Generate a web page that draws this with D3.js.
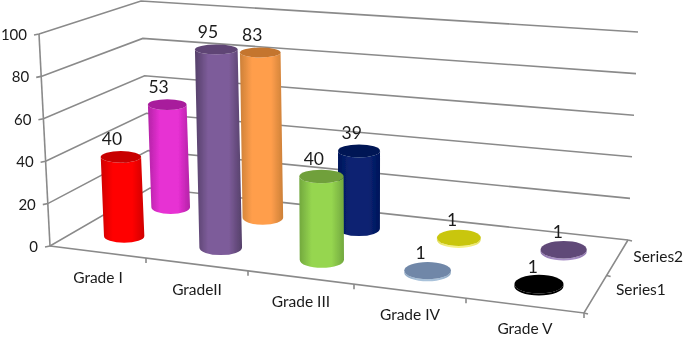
<!DOCTYPE html>
<html><head><meta charset="utf-8">
<script src="https://cdn.jsdelivr.net/npm/d3@7"></script>
<style>html,body{margin:0;padding:0;background:#fff}svg{display:block}text{font-family:Lato,"Open Sans",sans-serif;fill:#1a1a1a}</style>
</head><body><div id="c"></div>
<script>
const categories = ["Grade I", "GradeII", "Grade III", "Grade IV", "Grade V"];
const seriesNames = ["Series1", "Series2"];
const series1 = [40, 95, 40, 1, 1];
const series2 = [53, 83, 39, 1, 1];
const valueTicks = [0, 20, 40, 60, 80, 100];

const paletteS1 = [
 {mid:"#ff0000",edge:"#d00000",top:"#c80000"},
 {mid:"#7d5c9a",edge:"#554069",top:"#5f4574"},
 {mid:"#96d650",edge:"#72a83e",top:"#70a03a"},
 {mid:"#a9c2da",edge:"#8ea8c4",top:"#6f87a8"},
 {mid:"#000000",edge:"#000000",top:"#000000"}];
const paletteS2 = [
 {mid:"#e730d3",edge:"#b323a6",top:"#a81f9c"},
 {mid:"#ff9e4c",edge:"#cc8038",top:"#c4742e"},
 {mid:"#0a2472",edge:"#00145a",top:"#001654"},
 {mid:"#f6f184",edge:"#e4e060",top:"#c9c60c"},
 {mid:"#a78fc4",edge:"#8d74ad",top:"#614878"}];

const W=685,H=337;
const svg=d3.select("#c").append("svg").attr("width",W).attr("height",H);
const defs=svg.append("defs");
defs.append("filter").attr("id","soft").attr("x","-5%").attr("y","-5%").attr("width","110%").attr("height","110%")
  .append("feGaussianBlur").attr("stdDeviation",0.5);
const g=svg.append("g").attr("filter","url(#soft)");

// floor projection
const uFront=d3.scaleLinear().domain([0,1,2,3,4,5]).range([50,146,248,354,466,584]);
const uBack =d3.scaleLinear().domain([0,1,2,3,4,5]).range([150,238,330,425,524,628]);
const yFront=d3.scaleLinear().domain([50,584]).range([246,313]);
const yBack =d3.scaleLinear().domain([150,628]).range([188,240]);
const depth =d3.scaleLinear().domain([0.5,1.5]).range([0.2725,0.757]);
function floorPt(u,v){
  const t=v===0?0:v===2?1:depth(v),xf=uFront(u),xb=uBack(u);
  return [d3.interpolateNumber(xf,xb)(t),d3.interpolateNumber(yFront(xf),yBack(xb))(t)];
}
const lean  =d3.scaleLinear().domain([50,350]).range([-0.108,0]);
const unitPx=d3.scaleLinear().domain([0,1]).range([2.14,1.94]);
const unitX =d3.scaleLinear().domain([120,220,350]).range([0.945,1,1]).clamp(true);
const squash=d3.scaleLinear().domain([0,100]).range([0.34,0.215]);
const squashX=d3.scaleLinear().domain([100,550]).range([1,1.12]).clamp(true);
const labelDx=d3.scaleLinear().domain([120,560]).range([-9,-6]);
const catDy =d3.scaleLinear().domain([98,525]).range([31,28]);
// walls
const val=d3.scaleLinear().domain([0,100]);
const frontX=val.copy().range([50,39]),frontY=val.copy().range([246,34]);
const backLX=val.copy().range([150,141]),backLY=val.copy().range([188,1]);
const backRX=val.copy().range([628,638]),backRY=val.copy().range([240,32]);

const axis=g.append("g").attr("fill","none").attr("stroke","#8a8a8a").attr("stroke-width",1.6);
valueTicks.forEach(v=>{
  axis.append("path").attr("d",d3.line()([[frontX(v)-5,frontY(v)+1],[frontX(v),frontY(v)],[backLX(v),backLY(v)],[backRX(v),backRY(v)]]));
});
axis.append("path").attr("d",d3.line()([[frontX(0),frontY(0)],[frontX(100),frontY(100)]]));
// floor front + right edges
const fr=[uFront(5),yFront(uFront(5))];
axis.append("path").attr("d",d3.line()([[frontX(0),frontY(0)],fr,[uBack(5),yBack(uBack(5))]]));
d3.range(1,6).forEach(u=>{
  const x=uFront(u),y=yFront(x);
  axis.append("path").attr("d",d3.line()([[x,y],[x,y+5]]));
});
[0,1,2].forEach(v=>{
  const p=floorPt(5,v);
  axis.append("path").attr("d",d3.line()([p,[p[0]+4,p[1]+1]]));
});

// value axis labels
g.append("g").selectAll("text").data(valueTicks).join("text")
  .attr("x",v=>frontX(v)-12).attr("y",v=>frontY(v)+6)
  .attr("text-anchor","end").attr("font-size",15).text(v=>v);
// category labels
g.append("g").selectAll("text").data(categories).join("text")
  .attr("x",(d,i)=>uFront(i+.5)).attr("y",(d,i)=>yFront(uFront(i+.5))+catDy(uFront(i+.5)))
  .attr("text-anchor","middle").attr("font-size",15.5).text(d=>d);
// series labels
g.append("g").selectAll("text").data(seriesNames).join("text")
  .attr("x",(d,i)=>floorPt(5,i+.5)[0]+(i?16:20)).attr("y",(d,i)=>floorPt(5,i+.5)[1]+(i?4:2))
  .attr("font-size",15.5).text(d=>d);

// cylinders
function cylinder(u,s,value,pal,id){
  const [bx,by]=floorPt(u,s+.5);
  const t=depth(s+.5);
  const cw=(floorPt(u+.5,s+.5)[0]-floorPt(u-.5,s+.5)[0]);
  const rx=cw*0.215;
  const h=value*unitPx(t)*unitX(bx);
  const tx=bx+lean(bx)*value, ty=by-h;
  const ryB=rx*squash(0)*squashX(bx), ryT=rx*squash(value)*squashX(bx);
  const grad=defs.append("linearGradient").attr("id",id);
  [[0,pal.edge],[0.28,pal.mid],[0.72,pal.mid],[1,pal.edge]].forEach(o=>
    grad.append("stop").attr("offset",o[0]).attr("stop-color",o[1]));
  const d=`M${tx-rx},${ty}L${bx-rx},${by}A${rx},${ryB} 0 0 0 ${bx+rx},${by}L${tx+rx},${ty}A${rx},${ryT} 0 0 1 ${tx-rx},${ty}Z`;
  const c=g.append("g");
  c.append("path").attr("d",d).attr("fill",`url(#${id})`);
  c.append("ellipse").attr("cx",tx).attr("cy",ty).attr("rx",rx).attr("ry",ryT).attr("fill",pal.top);
  return {tx,ty};
}
const labels=[];
[[1,series2,paletteS2],[0,series1,paletteS1]].forEach(([s,vals,pal])=>{
  vals.forEach((v,i)=>{
    const p=cylinder(i+.5,s,v,pal[i],`g${s}${i}`);
    labels.push({v,x:p.tx+labelDx(p.tx),y:p.ty-11.5});
  });
});
g.append("g").selectAll("text").data(labels).join("text")
  .attr("x",d=>d.x).attr("y",d=>d.y).attr("text-anchor","middle").attr("font-size",17.5).text(d=>d.v);
</script></body></html>
